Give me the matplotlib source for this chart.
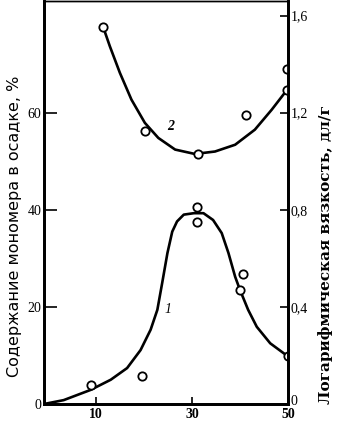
import numpy as np
import matplotlib.pyplot as plt
from matplotlib.transforms import ScaledTranslation

# curve 1: monomer content in precipitate, % (left axis)
c1_x = [-0.8, 3.3, 8.9, 13.1, 16.5, 19.3, 21.4, 22.8, 23.8, 24.9, 25.9, 26.9, 28.3, 30.4,
        32.4, 34.4, 36.2, 37.6, 39.0, 40.0, 41.7, 43.5, 46.3, 50.0]
c1_y = [0.0, 0.8, 2.9, 5.0, 7.4, 11.1, 15.3, 19.4, 24.9, 31.1, 35.5, 37.6, 39.0, 39.3,
        39.3, 37.9, 35.2, 31.1, 26.2, 23.5, 19.4, 15.9, 12.5, 9.8]
p1_x = [9.0, 19.6, 31.0, 31.0, 40.7, 40.0, 50.0]
p1_y = [3.9, 5.8, 40.5, 37.4, 26.8, 23.5, 9.8]

# curve 2: log viscosity, dl/g (right axis)
c2_x = [11.5, 12.9, 15.0, 17.4, 20.2, 23.0, 26.5, 30.6, 34.8, 39.0, 43.1, 46.6, 49.8]
c2_y = [1.554, 1.474, 1.364, 1.254, 1.158, 1.096, 1.048, 1.030, 1.040, 1.068, 1.130, 1.212, 1.294]
p2_x = [11.5, 20.2, 31.3, 41.2, 49.8, 49.8]
p2_y = [1.554, 1.126, 1.030, 1.192, 1.38, 1.294]

xticks = [10, 30, 50]
lticks = [0, 20, 40, 60]
rticks = [0, 0.4, 0.8, 1.2, 1.6]
rlabels = ['0', '0,4', '0,8', '1,2', '1,6']

serif = 'Liberation Serif'

fig = plt.figure(figsize=(3.41, 4.26), dpi=100)
ax = fig.add_axes([44/341, 22/426, 244/341, 403/426])
ax2 = ax.twinx()

ax.plot(c1_x, c1_y, color='black', lw=1.9, solid_capstyle='round', solid_joinstyle='round')
ax.plot(p1_x, p1_y, 'o', ms=6, mfc='white', mec='black', mew=1.3)
ax2.plot(c2_x, c2_y, color='black', lw=1.9, solid_capstyle='round', solid_joinstyle='round')
ax2.plot(p2_x, p2_y, 'o', ms=6, mfc='white', mec='black', mew=1.3)

ax.set_xlim(-0.8, 50)
ax.set_ylim(0, 83)
ax2.set_ylim(0, 1.66)

ax.set_xticks(xticks)
ax.set_xticklabels([str(v) for v in xticks], fontfamily=serif, fontsize=10, fontweight='bold')
ax.set_yticks(lticks)
ax.set_yticklabels([str(v) for v in lticks], fontfamily=serif, fontsize=10)
ax2.set_yticks(rticks)
ax2.set_yticklabels(rlabels, fontfamily=serif, fontsize=10)

ax.tick_params(axis='x', direction='in', length=5, width=1.2, pad=3)
ax.tick_params(axis='y', direction='in', length=9, width=1.2, pad=2)
ax2.tick_params(axis='y', direction='in', length=6, width=1.2, pad=2)

# lift the right-hand "0" a little so it clears the "50" below it
zero = ax2.get_yticklabels()[0]
zero.set_transform(zero.get_transform() + ScaledTranslation(0, 4/100, fig.dpi_scale_trans))

for a in (ax, ax2):
    for side in ('left', 'bottom', 'right'):
        a.spines[side].set_linewidth(2)
    a.spines['top'].set_linewidth(1)

ax.text(25.0, 19.4, '1', fontfamily=serif, fontsize=10, style='italic', ha='center', va='center')
ax.text(25.6, 57.1, '2', fontfamily=serif, fontsize=10, style='italic', fontweight='bold', ha='center', va='center')

fig.text(15/341, 1 - 226/426, 'Содержание мономера в осадке, %', rotation=90,
         ha='center', va='center', fontfamily='DejaVu Sans', fontsize=11.5)
fig.text(326/341, 1 - 255/426, 'Логарифмическая вязкость, дл/г', rotation=90,
         ha='center', va='center', fontfamily='DejaVu Serif', fontsize=11, fontweight='bold')

fig.savefig('out.png', dpi=100)
